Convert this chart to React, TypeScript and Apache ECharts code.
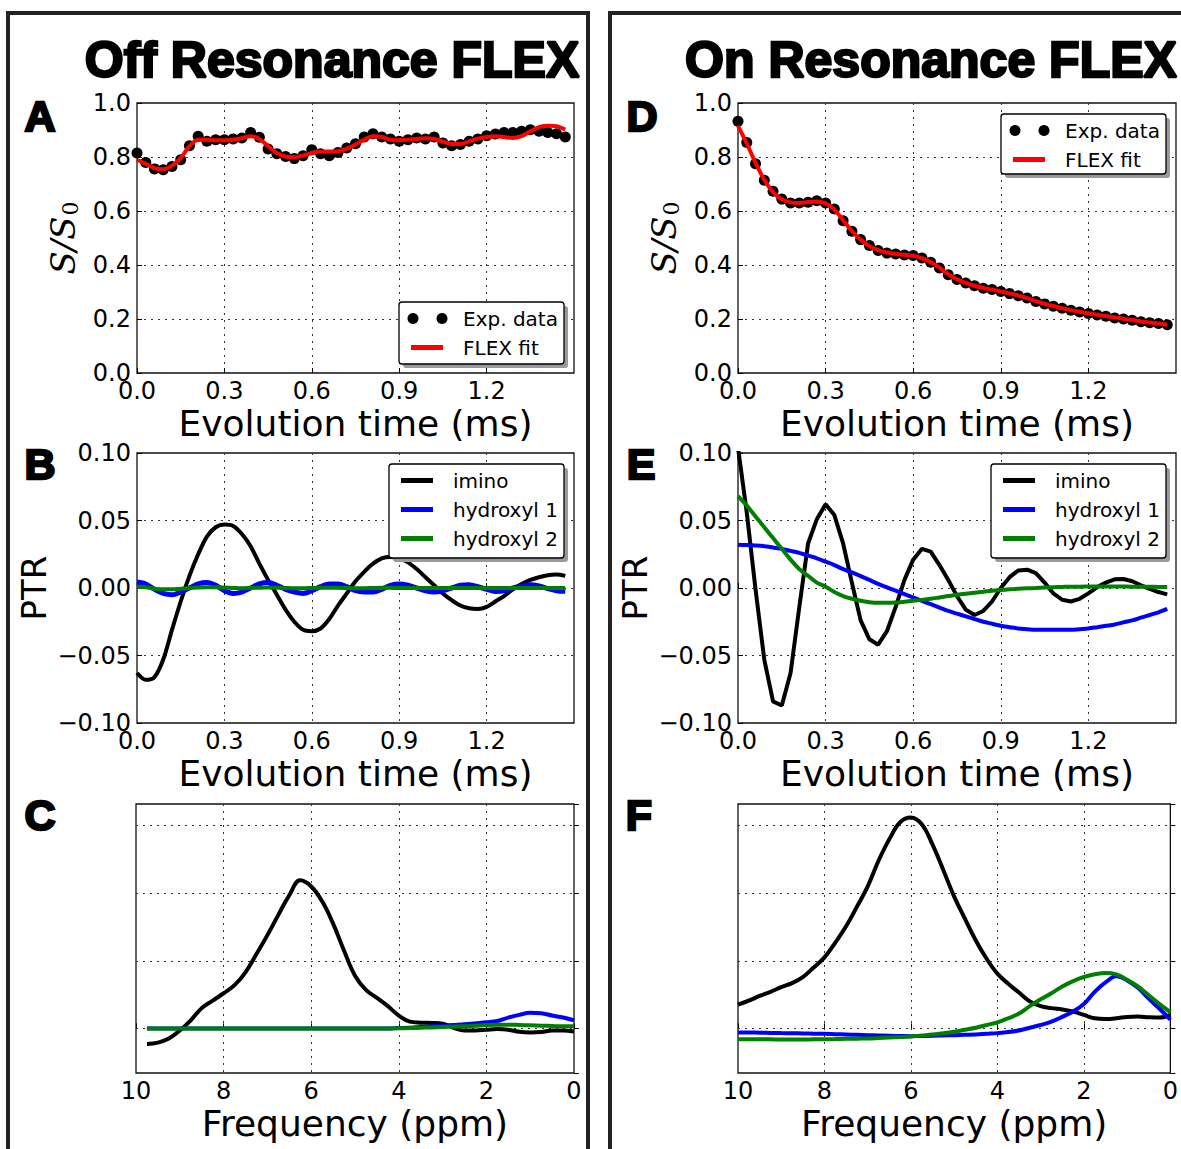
import React, { useEffect, useRef } from "react";
import * as echarts from "echarts";

// ---------- data ----------
const time = [0.0, 0.03, 0.06, 0.09, 0.12, 0.15, 0.18, 0.21, 0.24, 0.27, 0.3, 0.33, 0.36, 0.39, 0.42, 0.45, 0.48, 0.51, 0.54, 0.57, 0.6, 0.63, 0.66, 0.69, 0.72, 0.75, 0.78, 0.81, 0.84, 0.87, 0.9, 0.93, 0.96, 0.99, 1.02, 1.05, 1.08, 1.11, 1.14, 1.17, 1.2, 1.23, 1.26, 1.29, 1.32, 1.35, 1.38, 1.41, 1.44, 1.47];

// Panel A (off resonance S/S0)
const offExp = [0.815, 0.78, 0.756, 0.753, 0.765, 0.79, 0.842, 0.877, 0.858, 0.864, 0.864, 0.867, 0.87, 0.891, 0.873, 0.83, 0.812, 0.802, 0.794, 0.805, 0.827, 0.812, 0.805, 0.817, 0.833, 0.849, 0.874, 0.886, 0.874, 0.867, 0.858, 0.864, 0.87, 0.867, 0.874, 0.852, 0.842, 0.846, 0.858, 0.867, 0.879, 0.885, 0.891, 0.891, 0.895, 0.901, 0.895, 0.891, 0.886, 0.874];
const offFit = [0.79, 0.775, 0.759, 0.755, 0.768, 0.796, 0.84, 0.864, 0.864, 0.862, 0.862, 0.864, 0.87, 0.877, 0.867, 0.84, 0.815, 0.802, 0.799, 0.805, 0.815, 0.82, 0.82, 0.821, 0.83, 0.846, 0.864, 0.877, 0.874, 0.864, 0.862, 0.864, 0.867, 0.869, 0.867, 0.857, 0.848, 0.848, 0.858, 0.868, 0.874, 0.877, 0.874, 0.87, 0.877, 0.895, 0.911, 0.916, 0.914, 0.902];

// Panel D (on resonance S/S0)
const onExp = [0.932, 0.854, 0.775, 0.714, 0.673, 0.644, 0.63, 0.63, 0.632, 0.638, 0.63, 0.607, 0.564, 0.525, 0.494, 0.472, 0.454, 0.444, 0.441, 0.437, 0.435, 0.426, 0.41, 0.389, 0.364, 0.346, 0.333, 0.323, 0.314, 0.309, 0.302, 0.294, 0.286, 0.278, 0.265, 0.256, 0.247, 0.24, 0.232, 0.226, 0.22, 0.215, 0.21, 0.204, 0.2, 0.195, 0.19, 0.186, 0.183, 0.179];
const onFit = [0.915, 0.85, 0.778, 0.716, 0.67, 0.643, 0.632, 0.63, 0.633, 0.635, 0.628, 0.605, 0.566, 0.526, 0.494, 0.47, 0.455, 0.446, 0.441, 0.438, 0.434, 0.425, 0.41, 0.39, 0.366, 0.347, 0.334, 0.323, 0.315, 0.309, 0.302, 0.295, 0.287, 0.277, 0.266, 0.256, 0.248, 0.24, 0.233, 0.227, 0.221, 0.216, 0.211, 0.206, 0.201, 0.196, 0.191, 0.187, 0.183, 0.179];

// Panel B (off resonance PTR)
const offImino = [-0.063, -0.068, -0.066, -0.053, -0.031, -0.01, 0.009, 0.025, 0.038, 0.045, 0.047, 0.046, 0.04, 0.031, 0.018, 0.006, -0.005, -0.016, -0.025, -0.031, -0.032, -0.03, -0.023, -0.013, -0.004, 0.005, 0.012, 0.018, 0.022, 0.023, 0.022, 0.019, 0.014, 0.008, 0.002, -0.004, -0.009, -0.013, -0.015, -0.0155, -0.014, -0.01, -0.006, -0.001, 0.003, 0.006, 0.008, 0.0095, 0.01, 0.009];
const offHyd1 = [0.0045, 0.003, -0.001, -0.004, -0.005, -0.003, 0.0, 0.003, 0.004, 0.002, -0.002, -0.004, -0.003, 0.0, 0.003, 0.004, 0.002, -0.001, -0.003, -0.004, -0.002, 0.001, 0.003, 0.003, 0.001, -0.002, -0.003, -0.003, -0.001, 0.002, 0.003, 0.002, 0.0, -0.002, -0.003, -0.002, 0.0, 0.002, 0.0025, 0.001, -0.001, -0.0025, -0.002, 0.0, 0.0015, 0.0025, 0.0015, -0.0005, -0.002, -0.0025];
const offHyd2 = [0.001, 0.0005, -0.0005, -0.001, -0.001, -0.0005, 0.0, 0.0003, 0.0005, 0.0005, 0.0003, 0.0, -0.0002, 0.0, 0.0002, 0.0003, 0.0002, 0.0, -0.0002, -0.0002, 0.0, 0.0002, 0.0002, 0.0001, 0.0, -0.0001, -0.0001, 0.0, 0.0001, 0.0001, 0.0, 0.0, 0.0, 0.0, 0.0, 0.0, 0.0, 0.0, 0.0, 0.0, 0.0, 0.0, 0.0, 0.0, 0.0, 0.0, 0.0, 0.0, 0.0, 0.0];

// Panel E (on resonance PTR)
const onImino = [0.104, 0.056, -0.001, -0.053, -0.084, -0.087, -0.063, -0.014, 0.033, 0.051, 0.062, 0.054, 0.033, 0.004, -0.024, -0.038, -0.042, -0.032, -0.014, 0.006, 0.021, 0.029, 0.027, 0.017, 0.006, -0.006, -0.016, -0.02, -0.017, -0.01, 0.0, 0.008, 0.013, 0.0136, 0.011, 0.004, -0.004, -0.0087, -0.01, -0.008, -0.004, 0.0007, 0.004, 0.0064, 0.0067, 0.005, 0.002, -0.0007, -0.003, -0.0047];
const onHyd1 = [0.032, 0.0318, 0.0315, 0.031, 0.03, 0.029, 0.0275, 0.026, 0.024, 0.022, 0.0195, 0.017, 0.014, 0.0115, 0.0088, 0.006, 0.003, 0.0005, -0.002, -0.0045, -0.007, -0.0095, -0.012, -0.0145, -0.017, -0.019, -0.021, -0.023, -0.025, -0.0265, -0.028, -0.029, -0.03, -0.0305, -0.031, -0.031, -0.031, -0.031, -0.031, -0.0305, -0.03, -0.029, -0.028, -0.027, -0.0255, -0.024, -0.022, -0.02, -0.018, -0.0155];
const onHyd2 = [0.068, 0.061, 0.053, 0.045, 0.037, 0.029, 0.021, 0.014, 0.009, 0.004, 0.001, -0.003, -0.006, -0.008, -0.0095, -0.0105, -0.011, -0.011, -0.0108, -0.0102, -0.0095, -0.0088, -0.008, -0.007, -0.006, -0.005, -0.0042, -0.0035, -0.0028, -0.002, -0.0015, -0.001, -0.0005, -0.0002, 0.0, 0.0003, 0.0006, 0.0008, 0.001, 0.001, 0.0011, 0.0012, 0.0012, 0.0012, 0.0011, 0.001, 0.001, 0.0009, 0.0008, 0.0008];

// Panel C (off resonance spectra)
const freqC = [9.75, 9.5, 9.25, 9, 8.75, 8.5, 8.25, 8, 7.75, 7.5, 7.25, 7, 6.75, 6.5, 6.25, 6, 5.75, 5.5, 5.25, 5, 4.75, 4.5, 4.25, 4, 3.75, 3.5, 3.25, 3, 2.75, 2.5, 2.25, 2, 1.75, 1.5, 1.25, 1, 0.75, 0.5, 0.25, 0];
const offSpecImino = [-0.23, -0.21, -0.15, -0.03, 0.12, 0.3, 0.41, 0.52, 0.64, 0.83, 1.1, 1.38, 1.68, 1.97, 2.19, 2.1, 1.88, 1.55, 1.15, 0.78, 0.57, 0.45, 0.33, 0.19, 0.1, 0.085, 0.08, 0.07, 0.01, -0.03, -0.03, -0.02, -0.01, -0.02, -0.05, -0.06, -0.055, -0.03, -0.03, -0.045];
const offSpecHyd1 = [0, 0, 0, 0, 0, 0, 0, 0, 0, 0, 0, 0, 0, 0, 0, 0, 0, 0, 0, 0, 0, 0, 0, 0.005, 0.01, 0.02, 0.03, 0.04, 0.05, 0.06, 0.075, 0.09, 0.11, 0.16, 0.2, 0.23, 0.225, 0.19, 0.16, 0.12];
const offSpecHyd2 = [0, 0, 0, 0, 0, 0, 0, 0, 0, 0, 0, 0, 0, 0, 0, 0, 0, 0, 0, 0, 0, 0, 0, 0.002, 0.005, 0.01, 0.015, 0.02, 0.025, 0.03, 0.04, 0.05, 0.055, 0.055, 0.05, 0.045, 0.04, 0.035, 0.03, 0.03];

// Panel F (on resonance spectra)
const freqF = [10, 9.75, 9.5, 9.25, 9, 8.75, 8.5, 8.25, 8, 7.75, 7.5, 7.25, 7, 6.75, 6.5, 6.25, 6, 5.75, 5.5, 5.25, 5, 4.75, 4.5, 4.25, 4, 3.75, 3.5, 3.25, 3, 2.75, 2.5, 2.25, 2, 1.75, 1.5, 1.25, 1, 0.75, 0.5, 0.25, 0];
const onSpecImino = [0.35, 0.41, 0.48, 0.54, 0.61, 0.67, 0.76, 0.9, 1.05, 1.27, 1.51, 1.8, 2.1, 2.48, 2.8, 3.05, 3.12, 3.02, 2.72, 2.34, 1.95, 1.62, 1.3, 1.03, 0.81, 0.66, 0.53, 0.4, 0.33, 0.3, 0.28, 0.25, 0.2, 0.15, 0.14, 0.15, 0.17, 0.175, 0.165, 0.16, 0.2];
const onSpecHyd1 = [-0.06, -0.06, -0.065, -0.067, -0.07, -0.072, -0.075, -0.078, -0.08, -0.085, -0.09, -0.095, -0.1, -0.105, -0.11, -0.112, -0.115, -0.112, -0.11, -0.105, -0.1, -0.095, -0.09, -0.08, -0.07, -0.055, -0.03, 0.01, 0.05, 0.1, 0.17, 0.25, 0.36, 0.54, 0.68, 0.77, 0.71, 0.6, 0.44, 0.29, 0.13];
const onSpecHyd2 = [-0.16, -0.16, -0.16, -0.162, -0.165, -0.165, -0.165, -0.162, -0.16, -0.158, -0.155, -0.152, -0.15, -0.143, -0.135, -0.128, -0.12, -0.105, -0.09, -0.07, -0.05, -0.02, 0.01, 0.05, 0.09, 0.15, 0.22, 0.33, 0.43, 0.52, 0.62, 0.7, 0.76, 0.8, 0.82, 0.8, 0.72, 0.62, 0.49, 0.36, 0.24];

// axis settings / labels
const timeMax = 1.5;
const timeStep = 0.3;
const ssMax = 1.0;
const ssStep = 0.2;
const ptrMin = -0.1;
const ptrMax = 0.1;
const ptrStep = 0.05;
const specYMin = -0.66;
const specYMax = 3.32;
const freqMax = 10;
const freqStep = 2;
const titles = ["Off Resonance FLEX", "On Resonance FLEX"];
const panelLetters = ["A", "D", "B", "E", "C", "F"];
const timeAxisName = "Evolution time (ms)";
const freqAxisName = "Frequency (ppm)";
const expName = "Exp. data";
const fitName = "FLEX fit";
const ptrNames = ["imino", "hydroxyl 1", "hydroxyl 2"];

const BLACK = "#000000";
const RED = "#ff0000";
const BLUE = "#0000ff";
const GREEN = "#008000";
const ptrColors = [BLACK, BLUE, GREEN];

const pair = (xs: number[], ys: number[]) => xs.map((x, i) => [x, ys[i]]);

export default function App() {
  const ref = useRef<HTMLDivElement>(null);

  useEffect(() => {
    document.body.style.margin = "0";
    if (!ref.current) return;
    const chart = echarts.init(ref.current, undefined, { renderer: "svg" });

    const FONT = "DejaVu Sans";
    const tickLabel = { color: "#000", fontFamily: FONT, fontSize: 24 };
    const splitLine = { show: true, showMinLine: false, showMaxLine: false, lineStyle: { color: "#333", width: 1, type: [2, 5] as any } };
    const axisTick = { show: true, inside: true, length: 5, lineStyle: { color: "#000", width: 1 } };
    const nameStyle = { color: "#000", fontFamily: FONT, fontSize: 36 };

    const grids = [
      { left: 137, top: 103, width: 437, height: 270 }, // A
      { left: 738, top: 103, width: 438, height: 270 }, // D
      { left: 137, top: 453, width: 437, height: 270 }, // B
      { left: 738, top: 453, width: 438, height: 270 }, // E
      { left: 136, top: 804, width: 438, height: 269 }, // C
      { left: 738, top: 804, width: 438, height: 269 }, // F
    ].map((g) => ({ ...g, show: true, borderColor: "#111", borderWidth: 1.3, backgroundColor: "transparent" }));

    const timeX = (gi: number) => ({
      type: "value", gridIndex: gi, min: 0, max: timeMax, interval: timeStep,
      axisLine: { show: false }, axisTick, splitLine,
      axisLabel: { ...tickLabel, margin: 6, showMaxLabel: false, formatter: (v: number) => v.toFixed(1) },
      name: timeAxisName, nameLocation: "middle", nameGap: 32, nameTextStyle: nameStyle,
    });
    const freqX = (gi: number) => ({
      type: "value", gridIndex: gi, min: 0, max: freqMax, interval: freqStep, inverse: true,
      axisLine: { show: false }, axisTick, splitLine,
      axisLabel: { ...tickLabel, margin: 6, formatter: (v: number) => String(v) },
      name: freqAxisName, nameLocation: "middle", nameGap: 32, nameTextStyle: nameStyle,
    });
    const ssName = "{i|S/S}{s|0}";
    const ssRich = {
      i: { fontFamily: "DejaVu Serif", fontStyle: "italic", fontSize: 34, color: "#000" },
      s: { fontFamily: "DejaVu Serif", fontSize: 22, color: "#000", verticalAlign: "bottom", padding: [14, 0, 0, 1] },
    };
    const ssY = (gi: number) => ({
      type: "value", gridIndex: gi, min: 0, max: ssMax, interval: ssStep,
      axisLine: { show: false }, axisTick, splitLine,
      axisLabel: { ...tickLabel, margin: 6, formatter: (v: number) => v.toFixed(1) },
      name: ssName, nameLocation: "middle", nameRotate: 90, nameGap: 56, nameTextStyle: { color: "#000", rich: ssRich },
    });
    const ptrY = (gi: number) => ({
      type: "value", gridIndex: gi, min: ptrMin, max: ptrMax, interval: ptrStep,
      axisLine: { show: false }, axisTick, splitLine,
      axisLabel: {
        ...tickLabel, margin: 6,
        formatter: (v: number) => (v < -1e-9 ? "\u2212" : "") + Math.abs(v).toFixed(2),
      },
      name: "PTR", nameLocation: "middle", nameRotate: 90, nameGap: 86, nameTextStyle: { ...nameStyle, fontSize: 34 },
    });
    const specY = (gi: number) => ({
      type: "value", gridIndex: gi, min: specYMin, max: specYMax, splitNumber: 4,
      axisLine: { show: false }, axisTick, splitLine,
      axisLabel: { show: false },
    });

    const xAxis = [timeX(0), timeX(1), timeX(2), timeX(3), freqX(4), freqX(5)];
    const yAxis = [ssY(0), ssY(1), ptrY(2), ptrY(3), specY(4), specY(5)];

    const line = (name: string, gi: number, xs: number[], ys: number[], color: string, width: number, smooth: any) => ({
      name, type: "line", xAxisIndex: gi, yAxisIndex: gi, data: pair(xs, ys), showSymbol: false, symbol: "none",
      smooth, lineStyle: { color, width }, itemStyle: { color }, clip: true,
    });
    const dots = (name: string, gi: number, xs: number[], ys: number[]) => ({
      name, type: "scatter", xAxisIndex: gi, yAxisIndex: gi, data: pair(xs, ys), symbolSize: 11,
      itemStyle: { color: BLACK, opacity: 1 },
    });

    const series: any[] = [
      dots(expName, 0, time, offExp),
      line(fitName, 0, time, offFit, RED, 4, 0.3),
      dots(expName, 1, time, onExp),
      line(fitName, 1, time, onFit, RED, 4, 0.3),
      line(ptrNames[0], 2, time, offImino, BLACK, 4, 0.3),
      line(ptrNames[1], 2, time, offHyd1, BLUE, 5, 0.3),
      line(ptrNames[2], 2, time, offHyd2, GREEN, 4, 0.3),
      line(ptrNames[0], 3, time, onImino, BLACK, 4, false),
      line(ptrNames[1], 3, time, onHyd1, BLUE, 4, 0.3),
      line(ptrNames[2], 3, time, onHyd2, GREEN, 4, 0.3),
      line(ptrNames[0], 4, freqC, offSpecImino, BLACK, 4, 0.4),
      line(ptrNames[1], 4, freqC, offSpecHyd1, BLUE, 4, 0.4),
      line(ptrNames[2], 4, freqC, offSpecHyd2, GREEN, 4, 0.4),
      line(ptrNames[0], 5, freqF, onSpecImino, BLACK, 4, 0.4),
      line(ptrNames[1], 5, freqF, onSpecHyd1, BLUE, 4, 0.4),
      line(ptrNames[2], 5, freqF, onSpecHyd2, GREEN, 4, 0.4),
    ];

    // ---------- graphic: frames, titles, letters, legends ----------
    const g: any[] = [];
    g.push({ type: "rect", z: 200, shape: { x: 8, y: 13, width: 580, height: 1170 }, style: { fill: "none", stroke: "#222", lineWidth: 4 } });
    g.push({ type: "rect", z: 200, shape: { x: 610, y: 13, width: 620, height: 1170 }, style: { fill: "none", stroke: "#222", lineWidth: 4 } });
    const titlePos = [[332, 60], [931, 60]];
    titles.forEach((t, i) => {
      g.push({
        type: "text", z: 150, x: titlePos[i][0], y: titlePos[i][1],
        style: { text: t, fontFamily: "Liberation Sans", fontWeight: "bold", fontSize: 50, fill: "#000", stroke: "#000", lineWidth: 2.4, align: "center", verticalAlign: "middle" },
      });
    });
    const letterPos = [[40, 116], [642, 116], [40, 464], [641, 464], [40, 815], [639, 815]];
    panelLetters.forEach((t, i) => {
      g.push({
        type: "text", z: 150, x: letterPos[i][0], y: letterPos[i][1],
        style: { text: t, fontFamily: "Liberation Sans", fontWeight: "bold", fontSize: 43, fill: "#000", stroke: "#000", lineWidth: 2.4, align: "center", verticalAlign: "middle" },
      });
    });

    const legend = (x: number, y: number, w: number, h: number, items: { kind: string; color: string; label: string }[]) => {
      g.push({ type: "rect", z: 120, shape: { x: x + 4, y: y + 4, width: w, height: h, r: 3 }, style: { fill: "#9a9a9a" } });
      g.push({ type: "rect", z: 121, shape: { x, y, width: w, height: h, r: 3 }, style: { fill: "#fff", stroke: "#000", lineWidth: 1.3 } });
      items.forEach((it, k) => {
        const cy = y + 16.5 + k * 29;
        if (it.kind === "dots") {
          g.push({ type: "circle", z: 122, shape: { cx: x + 14, cy, r: 5.5 }, style: { fill: it.color } });
          g.push({ type: "circle", z: 122, shape: { cx: x + 43, cy, r: 5.5 }, style: { fill: it.color } });
        } else {
          g.push({ type: "line", z: 122, shape: { x1: x + 12, y1: cy, x2: x + 44, y2: cy }, style: { stroke: it.color, lineWidth: 5 } });
        }
        g.push({ type: "text", z: 122, x: x + 64, y: cy, style: { text: it.label, fontFamily: FONT, fontSize: 20, fill: "#000", verticalAlign: "middle", align: "left" } });
      });
    };
    const ssItems = [{ kind: "dots", color: BLACK, label: expName }, { kind: "line", color: RED, label: fitName }];
    const ptrItems = ptrNames.map((n, i) => ({ kind: "line", color: ptrColors[i], label: n }));
    legend(399, 302, 165, 62, ssItems);
    legend(1001, 114, 165, 60, ssItems);
    legend(389, 464, 175, 94, ptrItems);
    legend(991, 464, 175, 94, ptrItems);

    chart.setOption({
      animation: false,
      backgroundColor: "#fff",
      grid: grids,
      xAxis,
      yAxis,
      series,
      graphic: { elements: g },
    } as any);

    return () => chart.dispose();
  }, []);

  return <div ref={ref} style={{ width: 1181, height: 1149, background: "#fff" }} />;
}
